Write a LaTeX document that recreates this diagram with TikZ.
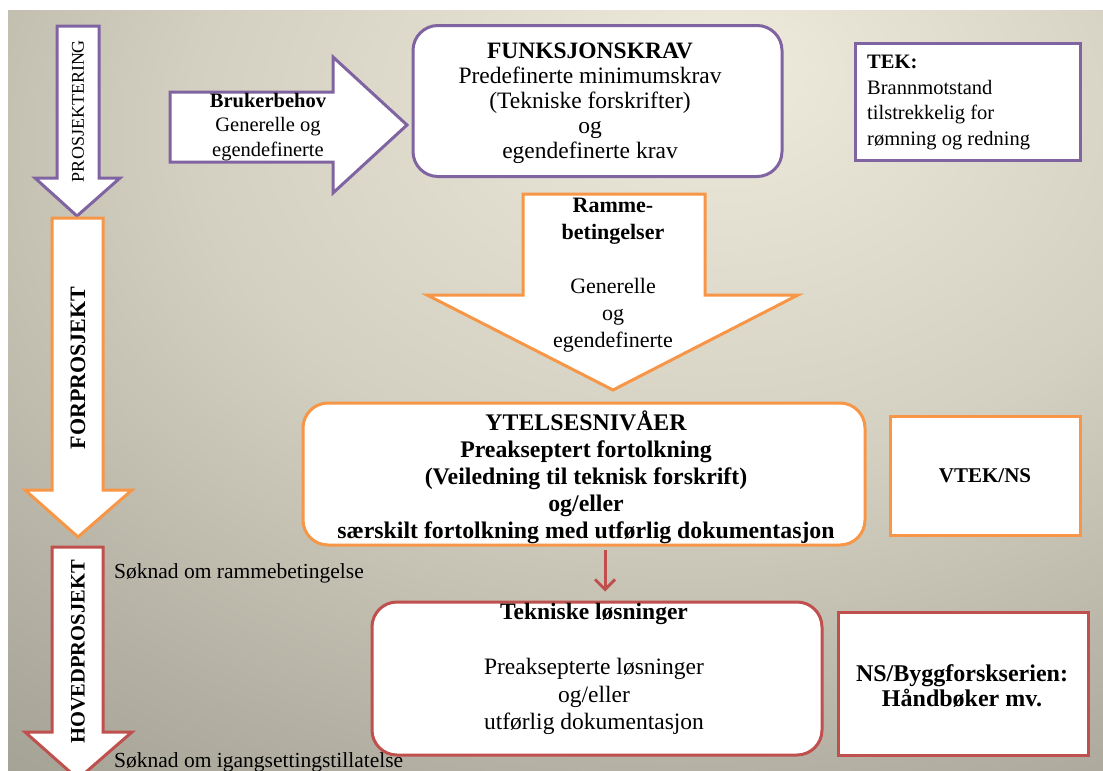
\documentclass[tikz,border=0pt]{standalone}
\usepackage{fontspec}
\setmainfont{Liberation Serif}
\usetikzlibrary{calc,arrows.meta}
\definecolor{opurple}{HTML}{8064A2}
\definecolor{oorange}{HTML}{F79646}
\definecolor{ored}{HTML}{C0504D}
\definecolor{bglight}{HTML}{EEEBDD}
\definecolor{bgmid}{HTML}{D3D0C1}
\definecolor{bgdim}{HTML}{A6A397}
\definecolor{bgdark}{HTML}{83817A}
\pgfdeclareradialshading{bgshade}{\pgfpoint{8bp}{22bp}}{color(0bp)=(bglight); color(23bp)=(bgmid); color(47bp)=(bgdim); color(80bp)=(bgdark); color(110bp)=(bgdark)}
\newcommand\setfs[2]{\fontsize{#1}{#2}\selectfont}
\begin{document}
\begin{tikzpicture}[x=1pt,y=-1pt,
  blockarrow/.style={line width=3pt, fill=white, line join=miter},
  framebox/.style={draw, line width=3pt, fill=white, inner sep=0pt},
  roundbox/.style={framebox, rounded corners=25pt},
  txt/.style={align=center, inner sep=0pt}]
\useasboundingbox (0,0) rectangle (1103,771);
\clip (0,0) rectangle (1103,771);
\fill[white] (0,0) rectangle (1103,771);
\shade[shading=bgshade] (8,10) rectangle (1103,771);

% phase arrows
\draw[blockarrow, draw=opurple] (57,26) -- (99,26) -- (99,178) -- (120,178) -- (77,216) -- (35,178) -- (57,178) -- cycle;
\draw[blockarrow, draw=oorange] (52,218) -- (103,218) -- (103,490) -- (132,490) -- (78,537) -- (25,490) -- (52,490) -- cycle;
\draw[blockarrow, draw=ored] (52,547) -- (103,547) -- (103,732) -- (132,732) -- (78,779) -- (25,732) -- (52,732) -- cycle;
\node[txt, rotate=90, font=\setfs{18}{21}] (prosj) at (78,111) {PROSJEKTERING};
\node[txt, rotate=90, font=\bfseries\setfs{22}{26}] (forpr) at (78,368) {FORPROSJEKT};
\node[txt, rotate=90, font=\bfseries\setfs{20.5}{24}] (hoved) at (78,652) {HOVEDPROSJEKT};
\node[anchor=base west, inner sep=0pt, font=\setfs{21.5}{24}] (sok1) at (114,578) {Søknad om rammebetingelse};
\node[anchor=base west, inner sep=0pt, font=\setfs{21.5}{24}] (sok2) at (114,767) {Søknad om igangsettingstillatelse};

% Brukerbehov arrow
\draw[blockarrow, draw=opurple] (170,92) -- (333,92) -- (333,57) -- (407,125) -- (333,193) -- (333,162) -- (170,162) -- cycle;
\node[txt, font=\setfs{20.5}{24.5}] (bruk) at (268,127) {\textbf{Brukerbehov}\\Generelle og\\egendefinerte};

% Funksjonskrav
\node[roundbox, draw=opurple, minimum width=369pt, minimum height=151pt] (funk) at (597.5,101) {};
\node[txt, font=\setfs{23.5}{25}] (funktxt) at (590,103) {\textbf{FUNKSJONSKRAV}\\Predefinerte minimumskrav\\(Tekniske forskrifter)\\og\\egendefinerte krav};

% TEK
\node[framebox, draw=opurple, minimum width=225pt, minimum height=117pt] (tek) at (967.5,101.5) {};
\node[txt, anchor=north west, align=left, font=\setfs{20.5}{25.5}] (tektxt) at (867,55) {{\bfseries TEK:}\\Brannmotstand\\tilstrekkelig for\\rømning og redning};

% Rammebetingelser arrow
\draw[blockarrow, draw=oorange] (523,194) -- (705,194) -- (705,295) -- (798,295) -- (613,390) -- (427,295) -- (523,295) -- cycle;
\node[txt, font=\setfs{22}{27}] (ramme) at (613,275) {\textbf{Ramme-}\\\textbf{betingelser}\\[27pt]Generelle\\og\\egendefinerte};

% Ytelsesnivaer
\node[roundbox, draw=oorange, minimum width=562pt, minimum height=142pt] (ytel) at (584,474) {};
\node[txt, font=\bfseries\setfs{23.8}{27}] (yteltxt) at (586,477) {YTELSESNIVÅER\\Preakseptert fortolkning\\(Veiledning til teknisk forskrift)\\og/eller\\særskilt fortolkning med utførlig dokumentasjon};

% VTEK/NS
\node[framebox, draw=oorange, minimum width=190pt, minimum height=119pt] (vtek) at (985,475.5) {};
\node[txt, font=\bfseries\setfs{21}{24}] (vtektxt) at (vtek.center) {VTEK/NS};

% Tekniske losninger
\node[roundbox, draw=ored, minimum width=450pt, minimum height=153pt] (tekn) at (597,678.5) {};
\node[txt, font=\setfs{23.5}{27.5}] (tekntxt) at (594,669) {\textbf{Tekniske løsninger}\\[27.5pt]Preaksepterte løsninger\\og/eller\\utførlig dokumentasjon};

% NS/Byggforsk
\node[framebox, draw=ored, minimum width=250pt, minimum height=143pt] (nsb) at (963,683.5) {};
\node[txt, font=\bfseries\setfs{24}{25.5}] (nsbtxt) at (962,686) {NS/Byggforskserien:\\Håndbøker mv.};

% connector
\draw[ored, line width=3pt, -{Straight Barb[length=10pt,width=20pt]}] ($(ytel.south)+(21,3)$) -- ($(tekn.north)+(8,-9)$);
\end{tikzpicture}
\end{document}
